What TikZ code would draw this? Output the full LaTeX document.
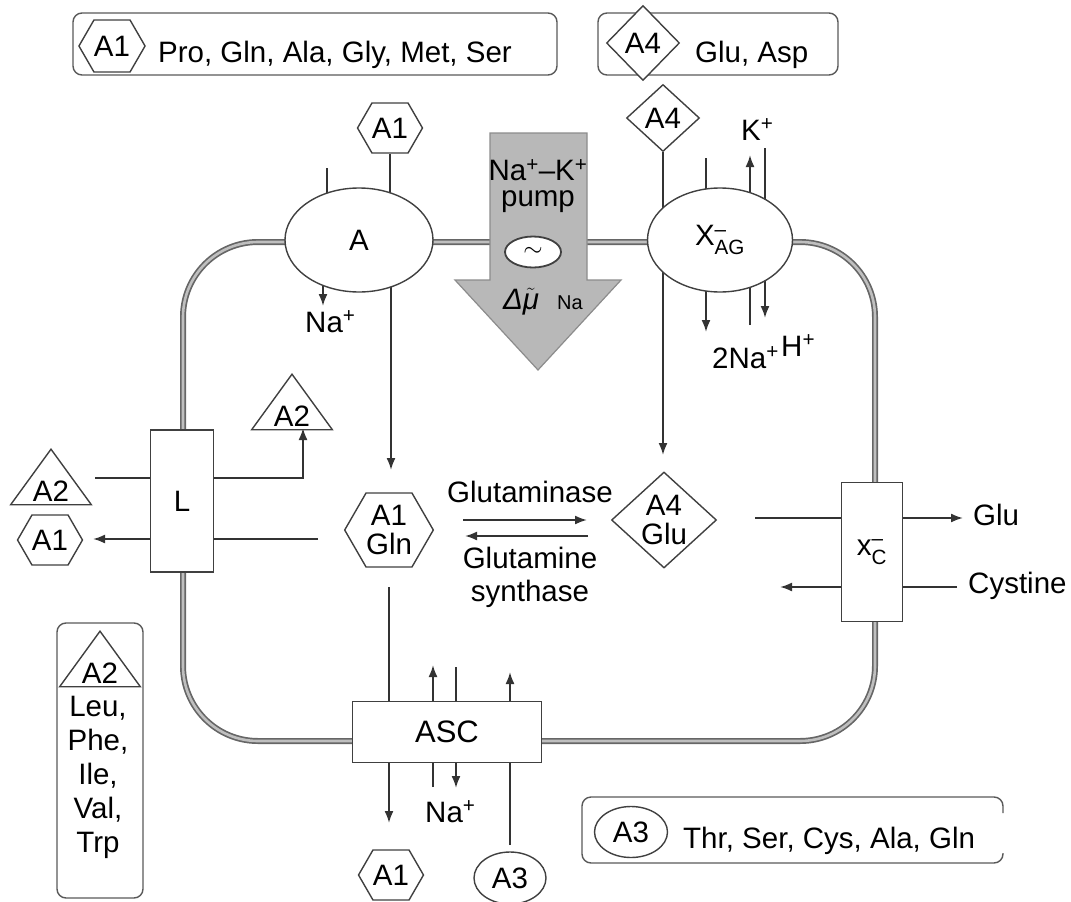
\documentclass[tikz,border=0pt]{standalone}
\usepackage{amsmath}
\usepackage{fontspec}
\setmainfont{Liberation Sans}
\usetikzlibrary{arrows.meta, shapes.geometric, shapes.symbols, backgrounds, positioning}

\tikzset{
  lbl/.style={inner sep=0pt, font=\fontsize{29.5}{29.5}\selectfont},
  hexa/.style={lbl, signal, signal to=west and east, signal pointer angle=120,
    draw=black!75, line width=1.4pt, fill=white, minimum width=64pt, minimum height=50pt},
  dia/.style={lbl, diamond, draw=black!75, line width=1.4pt, fill=white,
    minimum width=73pt, minimum height=67pt},
  tri/.style={lbl, isosceles triangle, isosceles triangle apex angle=72, shape border rotate=90,
    inner sep=3pt, draw=black!75, line width=1.4pt, fill=white},
  ovl/.style={lbl, ellipse, draw=black!75, line width=1.4pt, fill=white},
  carrier/.style={lbl, rectangle, draw=black!75, line width=1.6pt, fill=white},
  keybox/.style={draw=black!65, line width=1.4pt, rounded corners=9pt},
  link/.style={draw=black!80, line width=1.9pt},
  membrane/.style={draw=black!60, line width=1.7pt, double=black!25, double distance=2.6pt},
}

\begin{document}
\begin{tikzpicture}[x=1pt, y=-1pt, >={Latex[length=12pt,width=9pt]}]
\useasboundingbox (0,0) rectangle (1071,902);

% legend boxes
\draw[keybox] (73,13) rectangle (557,75);
\node[hexa, minimum width=60pt, minimum height=52pt] (keyA1) at (112,46) {A1};
\node[lbl, anchor=base west] (keyA1txt) at (158,62) {Pro, Gln, Ala, Gly, Met, Ser};

\draw[keybox] (598,13) rectangle (838,75);
\node[dia, minimum height=75pt] (keyA4) at (643,43) {A4};
\node[lbl, anchor=base west] (keyA4txt) at (695,62) {Glu, Asp};

\draw[keybox] (57,623) rectangle (143,898);
\node[tri, anchor=apex] (keyA2) at (100,630) {A2};
\node[lbl, anchor=north, align=center, font=\fontsize{29.5}{34}\selectfont] (keyA2txt) at (98,696) {Leu,\\Phe,\\Ile,\\Val,\\Trp};

\draw[keybox] (1003,813) |- (582,797) |- (1003,863) -- (1003,853);
\node[ovl, minimum width=73pt, minimum height=51pt] (keyA3) at (631,832) {A3};
\node[lbl, anchor=base west] (keyA3txt) at (683,848) {Thr, Ser, Cys, Ala, Gln};

% Na+-K+ pump
\draw[fill=black!28, draw=black!45, line width=1.2pt]
  (490,133) -- (587,133) -- (587,280) -- (621,280) -- (538,370) -- (455,280) -- (490,280) -- cycle;
\node[lbl, align=center, font=\fontsize{29.5}{26}\selectfont] (pumptxt) at (538,186) {Na\textsuperscript{+}–K\textsuperscript{+}\\pump};
\node[ovl, minimum width=56pt, minimum height=31pt, line width=1.8pt] (pump) at (533,252) {$\sim$};
\node[lbl, anchor=base] (dmu) at (521,309) {\itshape Δ$\tilde{\text{\itshape μ}}$};
\node[lbl, anchor=base west, font=\fontsize{20}{20}\selectfont] (dmuNa) at (557,309) {Na};

% transporters
\node[ovl, minimum width=148pt, minimum height=104pt] (A) at (359,240) {A};
\node[ovl, minimum width=145pt, minimum height=104pt] (XAG) at (720,240) {X$^{\text{–}}_{\text{AG}}$};
\node[carrier, minimum width=63pt, minimum height=142pt] (L) at (182,501) {L};
\node[carrier, minimum width=61pt, minimum height=139pt] (XC) at (872,552) {x$^{\text{–}}_{\text{C}}$};
\node[carrier, minimum width=189pt, minimum height=61pt, font=\fontsize{31}{31}\selectfont] (ASC) at (447,732) {ASC};

% amino acids
\node[hexa] (A1out) at (390,128) {A1};
\node[dia] (A4out) at (663,118) {A4};
\node[hexa, minimum width=83pt, minimum height=74pt, align=center] (A1in) at (389,530) {A1\\Gln};
\node[dia, minimum width=105pt, minimum height=96pt, align=center] (A4in) at (664,520) {A4\\Glu};
\node[tri, anchor=apex] (A2L) at (51,448) {A2};
\node[hexa] (A1L) at (50,540) {A1};
\node[tri, anchor=apex] (A2in) at (292,373) {A2};
\node[hexa, minimum width=62pt] (A1bot) at (391,875) {A1};
\node[ovl, minimum width=72pt, minimum height=52pt] (A3bot) at (510,878) {A3};

% ions and enzymes
\node[lbl, anchor=base west] (naA) at (305,332) {Na\textsuperscript{+}};
\node[lbl, anchor=base west] (kX) at (741,140) {K\textsuperscript{+}};
\node[lbl, anchor=base west] (naX) at (712,368) {2Na\textsuperscript{+}};
\node[lbl, anchor=base west] (hX) at (781,356) {H\textsuperscript{+}};
\node[lbl, anchor=base west] (naASC) at (425,822) {Na\textsuperscript{+}};
\node[lbl, anchor=base] (gase) at (530,502) {Glutaminase};
\node[lbl, anchor=base, align=center, font=\fontsize{29.5}{33}\selectfont] (gsyn) at (530,601) {Glutamine\\synthase};
\node[lbl, anchor=base west] (gluout) at (973,525) {Glu};
\node[lbl, anchor=base west] (cysout) at (968,593) {Cystine};

% free ends
\coordinate (aL) at (327,168);
\coordinate (naAtip) at (323,306);
\coordinate (a1intip) at (391,470);
\coordinate (a4intip) at (663,455);
\coordinate (naXtop) at (706,158);
\coordinate (naXtip) at (706,332);
\coordinate (kXbot) at (750,325);
\coordinate (kXtip) at (750,155);
\coordinate (hXtop) at (765,148);
\coordinate (hXtip) at (765,318);
\coordinate (a2s) at (95,478);
\coordinate (a2tip) at (303,428);
\coordinate (a1s) at (318,539);
\coordinate (a1tip) at (93,539);
\coordinate (ascs) at (389,587);
\coordinate (ascin) at (389,823);
\coordinate (naup) at (433,665);
\coordinate (naupb) at (433,787);
\coordinate (nadn) at (456,788);
\coordinate (nadnt) at (456,667);
\coordinate (a3s) at (510,845);
\coordinate (a3tip) at (510,672);
\coordinate (gl) at (463,520);
\coordinate (gr) at (587,520);
\coordinate (sl) at (465,536);
\coordinate (sr) at (588,536);
\coordinate (glus) at (755,518);
\coordinate (glutip) at (963,518);
\coordinate (cyss) at (957,587);
\coordinate (cystip) at (780,587);

\begin{scope}[on background layer]
  % membrane
  \draw[membrane, rounded corners=75pt] (183,242) rectangle (875,741);
  % transport A
  \draw[link] (A1out) -- (A1out |- A.center);
  \draw[link] (aL) -- (aL |- A.center);
  \draw[link, ->] (naAtip |- A.center) -- (naAtip);
  \draw[link, ->] (a1intip |- A.center) -- (a1intip);
  % transport XAG
  \draw[link, ->] (A4out) -- (a4intip);
  \draw[link, ->] (naXtop) -- (naXtip);
  \draw[link, ->] (kXbot) -- (kXtip);
  \draw[link, ->] (hXtop) -- (hXtip);
  % transport L
  \draw[link, ->] (a2s) -| (a2tip);
  \draw[link, ->] (a1s) -- (a1tip);
  % transport ASC
  \draw[link, ->] (ascs) -- (ascin);
  \draw[link, ->] (naupb) -- (naup);
  \draw[link, ->] (nadnt) -- (nadn);
  \draw[link, ->] (a3s) -- (a3tip);
  % glutaminase / synthase
  \draw[link, ->] (gl) -- (gr);
  \draw[link, ->] (sr) -- (sl);
  % transport xC
  \draw[link, ->] (glus) -- (glutip);
  \draw[link, ->] (cyss) -- (cystip);
\end{scope}
\end{tikzpicture}
\end{document}
